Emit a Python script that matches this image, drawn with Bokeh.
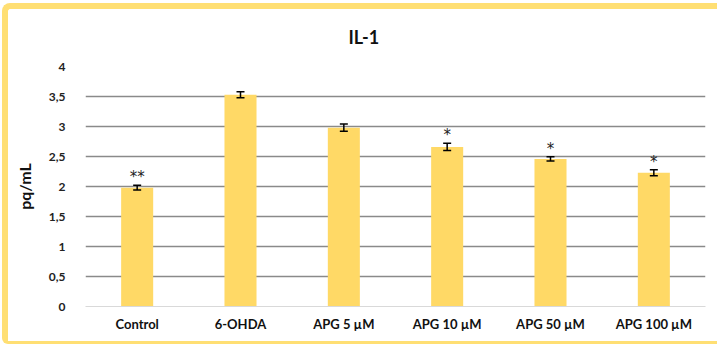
from bokeh.plotting import figure
from bokeh.models import (ColumnDataSource, FactorRange, FixedTicker, Whisker,
                          TeeHead, Range1d, InlineStyleSheet)
from bokeh.core.properties import value
from bokeh.embed import file_html
from bokeh.resources import INLINE

# IL-1 levels per treatment group
groups = ["Control", "6-OHDA", "APG 5 µM", "APG 10 µM", "APG 50 µM", "APG 100 µM"]
means = [1.98, 3.53, 2.98, 2.66, 2.46, 2.23]
errors = [0.04, 0.05, 0.06, 0.06, 0.035, 0.05]
marks = ["**", "", "", "*", "*", "*"]
y_ticks = [0, 0.5, 1, 1.5, 2, 2.5, 3, 3.5, 4]
y_tick_labels = ["0", "0,5", "1", "1,5", "2", "2,5", "3", "3,5", "4"]

FONT = "Lato"
BAR = "#FFD966"
FRAME = "#FFDF73"

src = ColumnDataSource(dict(
    g=groups,
    m=means,
    lo=[m - e for m, e in zip(means, errors)],
    hi=[m + e for m, e in zip(means, errors)],
    s=marks,
))

# rounded yellow frame drawn around the whole chart
frame_css = InlineStyleSheet(css=f"""
:host {{ position: relative; overflow: hidden; }}
:host::after {{
  content: '';
  position: absolute;
  left: 2px; top: 3px; right: 0px; bottom: 0px;
  box-sizing: border-box;
  border: 6px solid {FRAME};
  border-right: none;
  border-bottom-width: 3px;
  border-radius: 8px 0 0 6px;
  pointer-events: none;
}}
""")

p = figure(x_range=FactorRange(*groups), y_range=Range1d(0, 4),
           width=717, height=344, output_backend="svg", toolbar_location=None,
           min_border_left=85, min_border_right=12, min_border_top=66,
           min_border_bottom=38, title="IL-1", stylesheets=[frame_css])

p.outline_line_color = None
p.background_fill_color = "white"
p.border_fill_color = "white"

# title
p.title.text_font = FONT
p.title.text_font_size = "18px"
p.title.text_font_style = "bold"
p.title.text_color = "#111111"
p.title.align = "left"
p.title.offset = 263
p.title.standoff = 38

# bars, error whiskers and significance marks
p.vbar(x="g", top="m", width=0.31, source=src, fill_color=BAR, line_color=None)
p.add_layout(Whisker(base="g", lower="lo", upper="hi", source=src,
                     line_color="black", line_width=1.5, level="overlay",
                     upper_head=TeeHead(size=8, line_color="black", line_width=1.5),
                     lower_head=TeeHead(size=8, line_color="black", line_width=1.5)))
p.text(x="g", y="hi", text="s", source=src, text_align="center",
       text_baseline="middle", y_offset=-8, text_font=value("DejaVu Sans"),
       text_font_size="15px", text_color="#222222")

# grid
p.xgrid.grid_line_color = None
p.ygrid.ticker = FixedTicker(ticks=y_ticks[1:])
p.ygrid.grid_line_color = "#8a8a8a"
p.ygrid.grid_line_width = 1.3

# y axis
p.yaxis.ticker = FixedTicker(ticks=y_ticks)
p.yaxis.major_label_overrides = {t: l for t, l in zip(y_ticks, y_tick_labels)}
p.yaxis.axis_line_color = None
p.yaxis.major_tick_line_color = None
p.yaxis.minor_tick_line_color = None
p.yaxis.major_label_standoff = 14
p.yaxis.major_label_text_font = FONT
p.yaxis.major_label_text_font_style = "bold"
p.yaxis.major_label_text_font_size = "12px"
p.yaxis.major_label_text_color = "#222222"
p.yaxis.axis_label = "pq/mL"
p.yaxis.axis_label_text_font = FONT
p.yaxis.axis_label_text_font_style = "bold"
p.yaxis.axis_label_text_font_size = "16px"
p.yaxis.axis_label_text_color = "#111111"
p.yaxis.axis_label_standoff = 12

# x axis
p.xaxis.axis_line_color = "#d9d9d9"
p.xaxis.axis_line_width = 1
p.xaxis.major_tick_line_color = None
p.xaxis.minor_tick_line_color = None
p.xaxis.major_label_standoff = 3
p.xaxis.major_label_text_font = FONT
p.xaxis.major_label_text_font_style = "bold"
p.xaxis.major_label_text_font_size = "13px"
p.xaxis.major_label_text_color = "#111111"

open("out.html", "w").write(file_html(p, INLINE))
